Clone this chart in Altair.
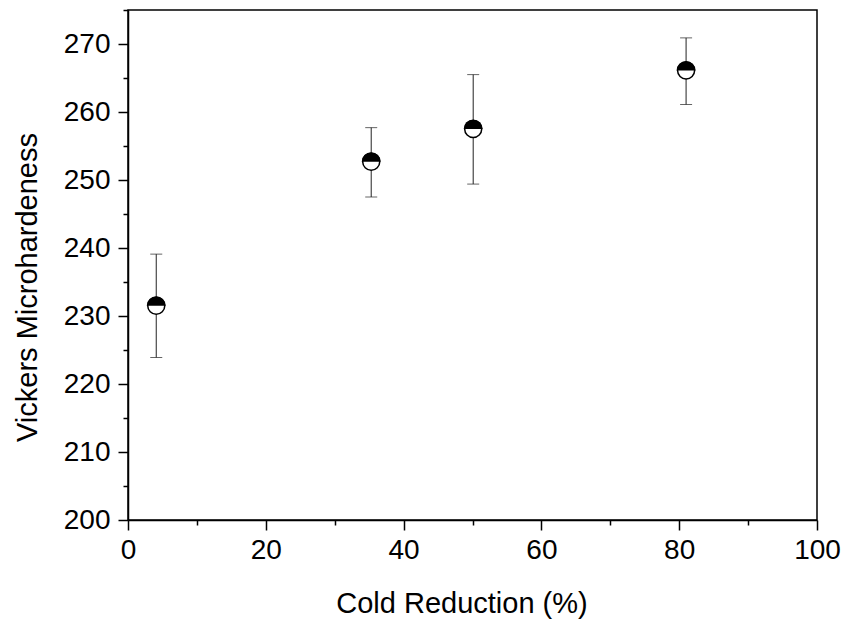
import math
import altair as alt
import pandas as pd

reduction = [4.1, 35.3, 50.1, 81.0]
hardness = [231.5, 252.7, 257.5, 266.1]
err_low = [223.9, 247.5, 249.4, 261.1]
err_high = [239.1, 257.7, 265.5, 270.9]

x_ticks = list(range(0, 101, 10))
y_ticks = list(range(200, 276, 5))

df = pd.DataFrame({"x": reduction, "y": hardness, "lo": err_low, "hi": err_high})

FONT = "Liberation Sans"
xscale = alt.Scale(domain=[0, 100], nice=False, zero=False)
yscale = alt.Scale(domain=[200, 275], nice=False, zero=False)

xaxis = alt.Axis(
    values=x_ticks,
    labelExpr="datum.value % 20 === 0 ? datum.label : ''",
    tickSize={"condition": {"test": "datum.value % 20 === 0", "value": 10}, "value": 5},
    grid=False, domainColor="black", domainWidth=1.5, tickColor="black", tickWidth=1.5,
    labelFont=FONT, labelFontSize=28, labelColor="black", labelPadding=6,
    labelFlush=False, labelOverlap=False,
    title="Cold Reduction (%)", titleFont=FONT, titleFontSize=29, titleFontWeight="normal",
    titleColor="black", titleX=333.5, titleY=92, titleBaseline="alphabetic", titleAlign="center",
)
yaxis = alt.Axis(
    values=y_ticks,
    labelExpr="datum.value % 10 === 0 ? datum.label : ''",
    tickSize={"condition": {"test": "datum.value % 10 === 0", "value": 10}, "value": 5},
    grid=False, domainColor="black", domainWidth=1.5, tickColor="black", tickWidth=1.5,
    labelFont=FONT, labelFontSize=28, labelColor="black", labelPadding=8,
    labelFlush=False, labelOverlap=False,
    title="Vickers Microhardeness", titleFont=FONT, titleFontSize=29, titleFontWeight="normal",
    titleColor="black", titleX=-92, titleY=277, titleBaseline="alphabetic", titleAlign="center",
    titleAngle=270,
)

base = alt.Chart(df)
X = alt.X("x:Q", scale=xscale, axis=xaxis)
Y = alt.Y("y:Q", scale=yscale, axis=yaxis)

bars = base.mark_rule(color="#222222", strokeWidth=1).encode(
    x=X, y=alt.Y("lo:Q", scale=yscale, axis=yaxis), y2="hi:Q"
)
cap_lo = base.mark_tick(orient="horizontal", size=12, thickness=1, color="#222222").encode(
    x=X, y=alt.Y("lo:Q", scale=yscale, axis=yaxis)
)
cap_hi = base.mark_tick(orient="horizontal", size=12, thickness=1, color="#222222").encode(
    x=X, y=alt.Y("hi:Q", scale=yscale, axis=yaxis)
)
disc = base.mark_point(filled=True, color="white", opacity=1, size=290).encode(x=X, y=Y)
half = base.mark_arc(theta=3 * math.pi / 2, theta2=5 * math.pi / 2, radius=9.5, color="black").encode(x=X, y=Y)
ring = base.mark_point(filled=False, stroke="black", strokeWidth=1.5, opacity=1, size=290).encode(x=X, y=Y)

chart = alt.layer(bars, cap_lo, cap_hi, disc, half, ring).properties(
    width=689, height=510,
    autosize=alt.AutoSizeParams(type="none"),
    padding={"left": 128, "top": 10, "right": 28, "bottom": 100},
    background="white",
).configure_view(stroke="black", strokeWidth=1.5)

chart.save("out.html", embed_options={"renderer": "svg", "actions": False})
